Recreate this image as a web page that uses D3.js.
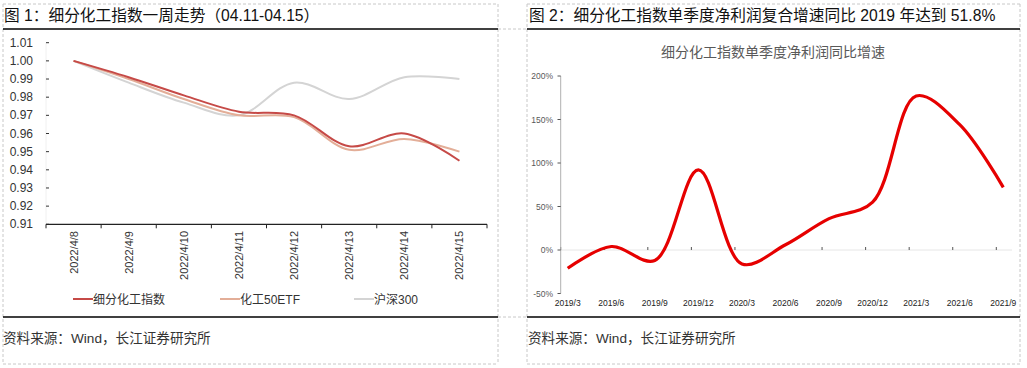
<!DOCTYPE html>
<html>
<head>
<meta charset="utf-8">
<script src="https://cdn.jsdelivr.net/npm/d3@7"></script>
<style>
  body { margin: 0; background: #fff; }
  svg text { font-family: "Liberation Sans", "Noto Sans CJK SC", sans-serif; }
</style>
</head>
<body>
<div class="canvas"></div>
<script>
// left chart data
const days = ['2022/4/8', '2022/4/9', '2022/4/10', '2022/4/11', '2022/4/12', '2022/4/13', '2022/4/14', '2022/4/15'];
const chemIdx = [1.000, 0.991, 0.981, 0.972, 0.970, 0.953, 0.960, 0.945];
const chemEtf = [1.000, 0.990, 0.979, 0.970, 0.969, 0.951, 0.957, 0.950];
const hs300 = [1.000, 0.988, 0.977, 0.970, 0.988, 0.979, 0.991, 0.990];
const leftTicks = [0.91, 0.92, 0.93, 0.94, 0.95, 0.96, 0.97, 0.98, 0.99, 1.00, 1.01];
const seriesNames = ['细分化工指数', '化工50ETF', '沪深300'];

// right chart data
const quarters = ['2019/3', '2019/6', '2019/9', '2019/12', '2020/3', '2020/6', '2020/9', '2020/12', '2021/3', '2021/6', '2021/9'];
const profitYoy = [-21, 4, -12, 92, -16, 6, 36, 55, 177, 144, 72];
const rightTicks = [-50, 0, 50, 100, 150, 200];

const svg = d3.select('.canvas')
              .append('svg')
              .attr('width', 1027)
              .attr('height', 368);

// table-ish frame
const dash = '3,2';
const frame = [
  [3, 4, 498, 4, dash], [527, 4, 1020, 4, dash],
  [3, 4, 3, 364, dash], [498, 4, 498, 364, dash],
  [527, 4, 527, 364, dash], [1020, 4, 1020, 364, dash],
  [3, 364, 498, 364, dash], [527, 364, 1020, 364, dash],
  [498, 29, 527, 29, dash], [498, 317, 527, 317, dash],
  [3, 29, 498, 29, null], [527, 29, 1020, 29, null],
  [3, 317, 498, 317, null], [527, 317, 1020, 317, null]
];
svg.selectAll('.frame')
   .data(frame)
   .enter()
   .append('line')
   .attr('class', 'frame')
   .attr('x1', d => d[0]).attr('y1', d => d[1])
   .attr('x2', d => d[2]).attr('y2', d => d[3])
   .attr('stroke', d => d[4] ? '#c8c8c8' : '#000')
   .attr('stroke-width', d => d[4] ? 1 : 1.5)
   .attr('stroke-dasharray', d => d[4]);

// titles + source
svg.append('text').attr('x', 4).attr('y', 21).attr('font-size', 15.7).attr('fill', '#111')
   .text('图 1：细分化工指数一周走势（04.11-04.15）');
svg.append('text').attr('x', 529).attr('y', 21).attr('font-size', 15.7).attr('fill', '#111')
   .text('图 2：细分化工指数单季度净利润复合增速同比 2019 年达到 51.8%');
svg.append('text').attr('x', 3).attr('y', 343).attr('font-size', 13.6).attr('fill', '#333')
   .text('资料来源：Wind，长江证券研究所');
svg.append('text').attr('x', 528).attr('y', 343).attr('font-size', 13.6).attr('fill', '#333')
   .text('资料来源：Wind，长江证券研究所');

// ---- left chart ----
const x1 = d3.scaleBand().domain(days).range([46, 487]);
const y1 = d3.scaleLinear().domain([0.91, 1.01]).range([224.3, 42.7]);

const left = svg.append('g');

left.append('line')
    .attr('x1', 46).attr('x2', 46)
    .attr('y1', y1(1.01)).attr('y2', y1(0.91))
    .attr('stroke', '#f0f0f0');

left.selectAll('.ytick')
    .data(leftTicks)
    .enter()
    .append('line')
    .attr('x1', 46).attr('x2', 49)
    .attr('y1', d => y1(d)).attr('y2', d => y1(d))
    .attr('stroke', '#333');

left.selectAll('.ylab')
    .data(leftTicks)
    .enter()
    .append('text')
    .attr('x', 33)
    .attr('y', d => y1(d) + 4)
    .attr('text-anchor', 'end')
    .attr('font-size', 12)
    .attr('fill', '#333')
    .text(d => d.toFixed(2));

// x axis with ticks at band edges
left.append('line')
    .attr('x1', 46).attr('x2', 487)
    .attr('y1', y1(0.91)).attr('y2', y1(0.91))
    .attr('stroke', '#222').attr('stroke-width', 1.2);

left.selectAll('.xtick')
    .data(days.concat(['end']))
    .enter()
    .append('line')
    .attr('x1', (d, i) => 46 + i * x1.step())
    .attr('x2', (d, i) => 46 + i * x1.step())
    .attr('y1', y1(0.91)).attr('y2', y1(0.91) + 4)
    .attr('stroke', '#222');

left.selectAll('.xlab')
    .data(days)
    .enter()
    .append('text')
    .attr('transform', d => `translate(${x1(d) + x1.bandwidth() / 2 + 4}, 231) rotate(-90)`)
    .attr('text-anchor', 'end')
    .attr('font-size', 11)
    .attr('fill', '#333')
    .text(d => d);

const leftColors = ['#c64a47', '#e3ae98', '#d4d4d4'];
const leftSeries = [chemIdx, chemEtf, hs300];

const line1 = d3.line()
                .x((d, i) => x1(days[i]) + x1.bandwidth() / 2)
                .y(d => y1(d))
                .curve(d3.curveCatmullRom.alpha(0.5));

// draw gray first so reds sit on top
[2, 1, 0].forEach(k => {
  left.append('path')
      .attr('d', line1(leftSeries[k]))
      .attr('fill', 'none')
      .attr('stroke', leftColors[k])
      .attr('stroke-width', 2);
});

// legend
const legendX = [73, 220, 354];
const legend = left.selectAll('.leg')
                   .data(seriesNames)
                   .enter()
                   .append('g')
                   .attr('transform', (d, i) => `translate(${legendX[i]}, 299)`);
legend.append('line')
      .attr('x1', 0).attr('x2', 20)
      .attr('stroke', (d, i) => leftColors[i])
      .attr('stroke-width', 2);
legend.append('text')
      .attr('x', 20).attr('y', 4.5)
      .attr('font-size', 12)
      .attr('fill', '#333')
      .text(d => d);

// ---- right chart ----
const right = svg.append('g');

right.append('text')
     .attr('x', 773).attr('y', 57)
     .attr('text-anchor', 'middle')
     .attr('font-size', 14)
     .attr('fill', '#595959')
     .text('细分化工指数单季度净利润同比增速');

const x2 = d3.scalePoint().domain(quarters).range([567.7, 1003.3]);
const y2 = d3.scaleLinear().domain([-50, 200]).range([293.5, 76]);

// zero line
right.append('line')
     .attr('x1', 560.7).attr('x2', 1012)
     .attr('y1', y2(0)).attr('y2', y2(0))
     .attr('stroke', '#e6e6e6');

right.selectAll('.qtick')
     .data(quarters)
     .enter()
     .append('line')
     .attr('x1', d => x2(d) - 7).attr('x2', d => x2(d) - 7)
     .attr('y1', y2(0) - 3).attr('y2', y2(0))
     .attr('stroke', '#555');

right.append('line')
     .attr('x1', 560.7).attr('x2', 560.7)
     .attr('y1', y2(200)).attr('y2', y2(-50))
     .attr('stroke', '#b0b0b0');

right.selectAll('.rtick')
     .data(rightTicks)
     .enter()
     .append('line')
     .attr('x1', 557.5).attr('x2', 560.7)
     .attr('y1', d => y2(d)).attr('y2', d => y2(d))
     .attr('stroke', '#555');

right.selectAll('.rlab')
     .data(rightTicks)
     .enter()
     .append('text')
     .attr('x', 553)
     .attr('y', d => y2(d) + 3)
     .attr('text-anchor', 'end')
     .attr('font-size', 8.5)
     .attr('fill', '#595959')
     .text(d => d + '%');

right.selectAll('.qlab')
     .data(quarters)
     .enter()
     .append('text')
     .attr('x', d => x2(d))
     .attr('y', 306)
     .attr('text-anchor', 'middle')
     .attr('font-size', 8.5)
     .attr('fill', '#222')
     .text(d => d);

const line2 = d3.line()
                .x((d, i) => x2(quarters[i]))
                .y(d => y2(d))
                .curve(d3.curveCatmullRom.alpha(0.5));

right.append('path')
     .attr('d', line2(profitYoy))
     .attr('fill', 'none')
     .attr('stroke', '#e60000')
     .attr('stroke-width', 3.2);
</script>
</body>
</html>
